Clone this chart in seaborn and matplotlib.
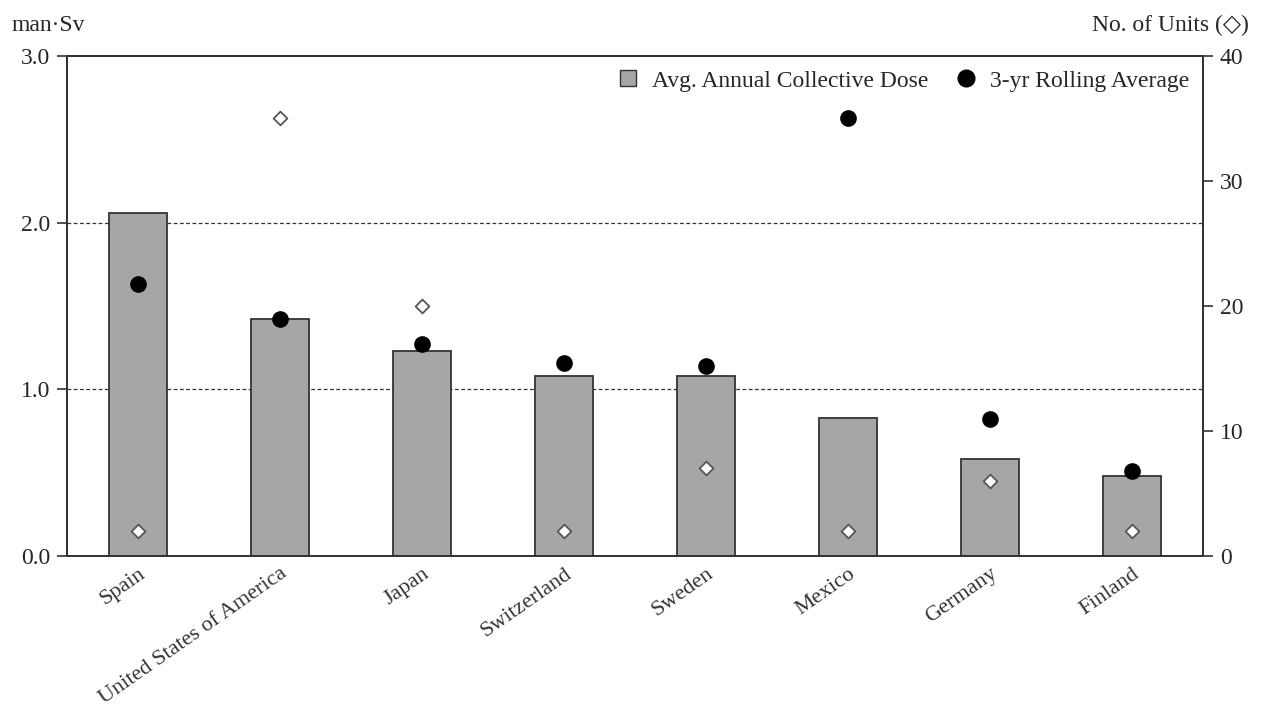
import matplotlib.pyplot as plt
import matplotlib as mpl
import seaborn as sns
import numpy as np
import pandas as pd
from matplotlib.lines import Line2D

sns.set_style('white')
mpl.rcParams['font.family'] = ['Liberation Serif', 'DejaVu Serif']

countries = ['Spain', 'United States of America', 'Japan', 'Switzerland',
             'Sweden', 'Mexico', 'Germany', 'Finland']
avg_dose = [2.06, 1.42, 1.23, 1.08, 1.08, 0.83, 0.58, 0.48]
rolling_avg = [1.63, 1.42, 1.27, 1.16, 1.14, 2.63, 0.82, 0.51]
units = [2, 35, 20, 2, 7, 2, 6, 2]

df = pd.DataFrame({'country': countries, 'dose': avg_dose,
                   'rolling': rolling_avg, 'units': units})

FS = 17

fig = plt.figure(figsize=(12.61, 7.17), dpi=100)
ax = fig.add_axes([0.0531, 0.2246, 0.9009, 0.6973])

sns.barplot(data=df, x='country', y='dose', ax=ax, color='#a6a6a6',
            saturation=1, width=0.41, edgecolor='#333333', linewidth=1.3)
sns.stripplot(data=df, x='country', y='rolling', ax=ax, jitter=False,
              color='black', size=12, zorder=4)

ax.set_ylim(0, 3.0)
ax.set_xlim(-0.5, 7.5)
ax.set_yticks([0, 1, 2, 3])
ax.set_yticklabels(['0.0', '1.0', '2.0', '3.0'], fontsize=FS)
ax.set_xlabel('')
ax.set_ylabel('')
for v in [1.0, 2.0]:
    ax.axhline(v, color='#333333', linestyle=(0, (3, 2)), linewidth=0.9, zorder=0)

# x ticks sit on the category boundaries, labels in the middle
ax.set_xticks(np.arange(-0.5, 8, 1))
ax.set_xticklabels([])
ax.set_xticks(np.arange(8), minor=True)
ax.set_xticklabels(countries, minor=True, rotation=35, ha='right',
                   rotation_mode='anchor', fontsize=16, color='#333333')
ax.tick_params(axis='x', which='major', direction='out', length=7,
               width=1.2, color='#333333', bottom=True)
ax.tick_params(axis='x', which='minor', length=0, pad=6)
ax.tick_params(axis='y', direction='out', length=7, width=1.2,
               color='#333333', left=True, pad=5)

for s in ax.spines.values():
    s.set_color('#333333')
    s.set_linewidth(1.3)

ax2 = ax.twinx()
sns.stripplot(data=df, x='country', y='units', ax=ax2, jitter=False,
              marker='D', color='white', edgecolor='#555555', linewidth=1.3,
              size=7, zorder=5)
ax2.set_ylim(0, 40)
ax2.set_xlim(-0.5, 7.5)
ax2.set_yticks([0, 10, 20, 30, 40])
ax2.set_yticklabels(['0', '10', '20', '30', '40'], fontsize=FS)
ax2.set_ylabel('')
ax2.set_xlabel('')
ax2.tick_params(axis='y', direction='out', length=7, width=1.2,
                color='#333333', right=True, pad=5)
ax2.set_xticks([])
for s in ax2.spines.values():
    s.set_color('#333333')
    s.set_linewidth(1.3)

handles = [Line2D([], [], marker='s', linestyle='', markersize=11,
                  markerfacecolor='#a6a6a6', markeredgecolor='#333333'),
           Line2D([], [], marker='o', linestyle='', markersize=12,
                  color='black')]
ax2.legend(handles, ['Avg. Annual Collective Dose', '3-yr Rolling Average'],
           loc='upper right', ncol=2, frameon=False, fontsize=FS,
           handletextpad=0.4, columnspacing=1.0, borderaxespad=0.2,
           handlelength=1.2)

fig.text(0.0095, 0.965, 'man·Sv', fontsize=FS, va='center', ha='left')
fig.text(0.990, 0.965, 'No. of Units (◇)', fontsize=FS, va='center', ha='right')

fig.savefig('out.png', dpi=100)
